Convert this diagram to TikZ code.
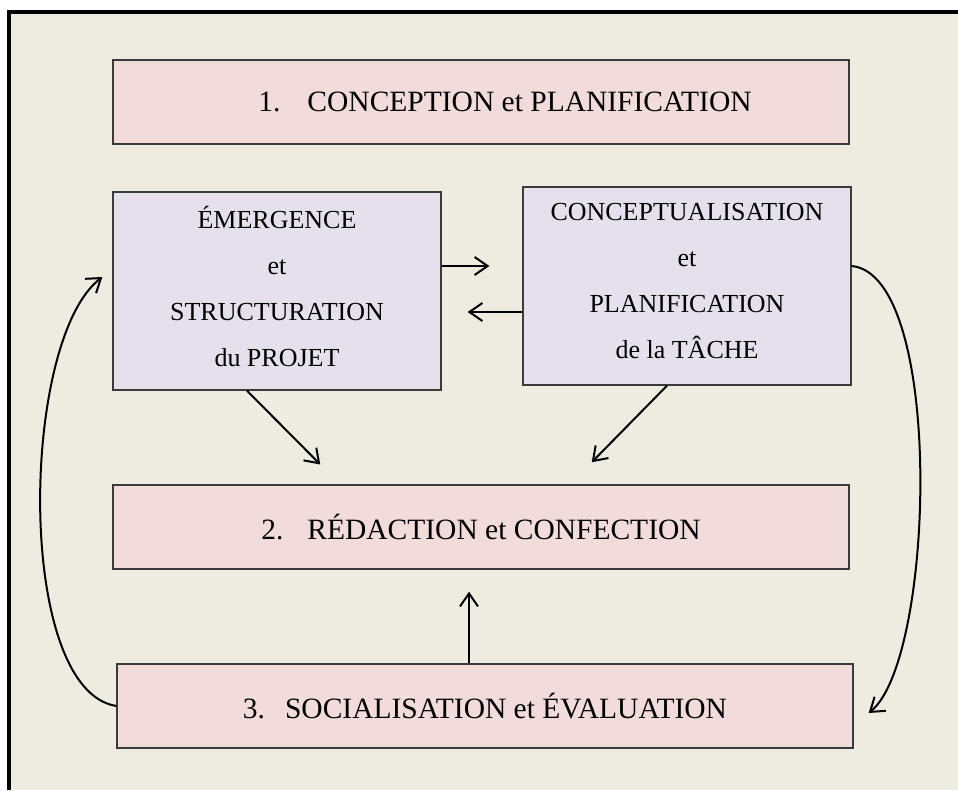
\documentclass[tikz,border=0pt]{standalone}
\usepackage{fontspec}
\setmainfont{Liberation Serif}
\usetikzlibrary{arrows.meta,positioning}
\definecolor{fond}{HTML}{EEEBE0}
\definecolor{rose}{HTML}{F2DCDB}
\definecolor{lilas}{HTML}{E5E0EC}
\definecolor{bord}{HTML}{3A3A3A}

\begin{document}
\begin{tikzpicture}[x=1pt,y=-1pt,on grid,
    etape/.style={draw=bord,line width=1.3pt,fill=rose,minimum width=736pt,minimum height=84pt,inner sep=0pt,font=\fontsize{29.5}{46}\selectfont},
    sousetape/.style={draw=bord,line width=1.3pt,fill=lilas,minimum width=328pt,minimum height=198pt,inner sep=0pt,align=center,font=\fontsize{26}{46}\selectfont},
    fleche/.style={-{Straight Barb[length=13pt,width=18pt]},line width=2pt}]
    \useasboundingbox (0,0) rectangle (958,790);
    \fill[fond] (9,12) rectangle (958,790);
    \draw[line width=3.6pt] (9,790) -- (9,12) -- (958,12);
    \node[etape] (plan) at (481,102) {\hspace*{48pt}1.\hspace{27pt}CONCEPTION et PLANIFICATION};
    \node[sousetape, below left=189pt and 204pt of plan] (emerg) {ÉMERGENCE\\et\\STRUCTURATION\\du PROJET\\[-36pt]};
    \node[sousetape, right=410pt of emerg, yshift=5pt] (concept) {CONCEPTUALISATION\\et\\PLANIFICATION\\de la TÂCHE\\[-36pt]};
    \node[etape, below right=236pt and 204pt of emerg] (redac) {2.\hspace{24pt}RÉDACTION et CONFECTION};
    \node[etape, below=179pt of redac, xshift=4pt] (social) {3.\hspace{20pt}SOCIALISATION et ÉVALUATION};
    % fleches entre les sous-etapes
    \draw[fleche, shorten >=33pt] ([yshift=25pt]emerg.east) -- ([yshift=25pt]emerg.east -| concept.west);
    \draw[fleche, shorten >=26pt] ([yshift=-26pt]concept.west) -- ([yshift=-26pt]concept.west -| emerg.east);
    \draw[fleche, shorten >=28pt] ([xshift=-30pt]emerg.south) -- ([xshift=-141pt]redac.north);
    \draw[fleche, shorten >=31pt] ([xshift=-20pt]concept.south) -- ([xshift=89pt]redac.north);
    \draw[fleche, shorten >=22pt] ([xshift=-16pt]social.north) -- ([xshift=-16pt]social.north |- redac.south);
    % boucles
    \draw[fleche] (social.west) .. controls (15,690) and (20,340) .. ([xshift=-10pt,yshift=14pt]emerg.west);
    \draw[fleche] ([yshift=20pt]concept.east) .. controls (945,275) and (935,660) .. ([xshift=15pt,yshift=-7pt]social.east);
\end{tikzpicture}
\end{document}
